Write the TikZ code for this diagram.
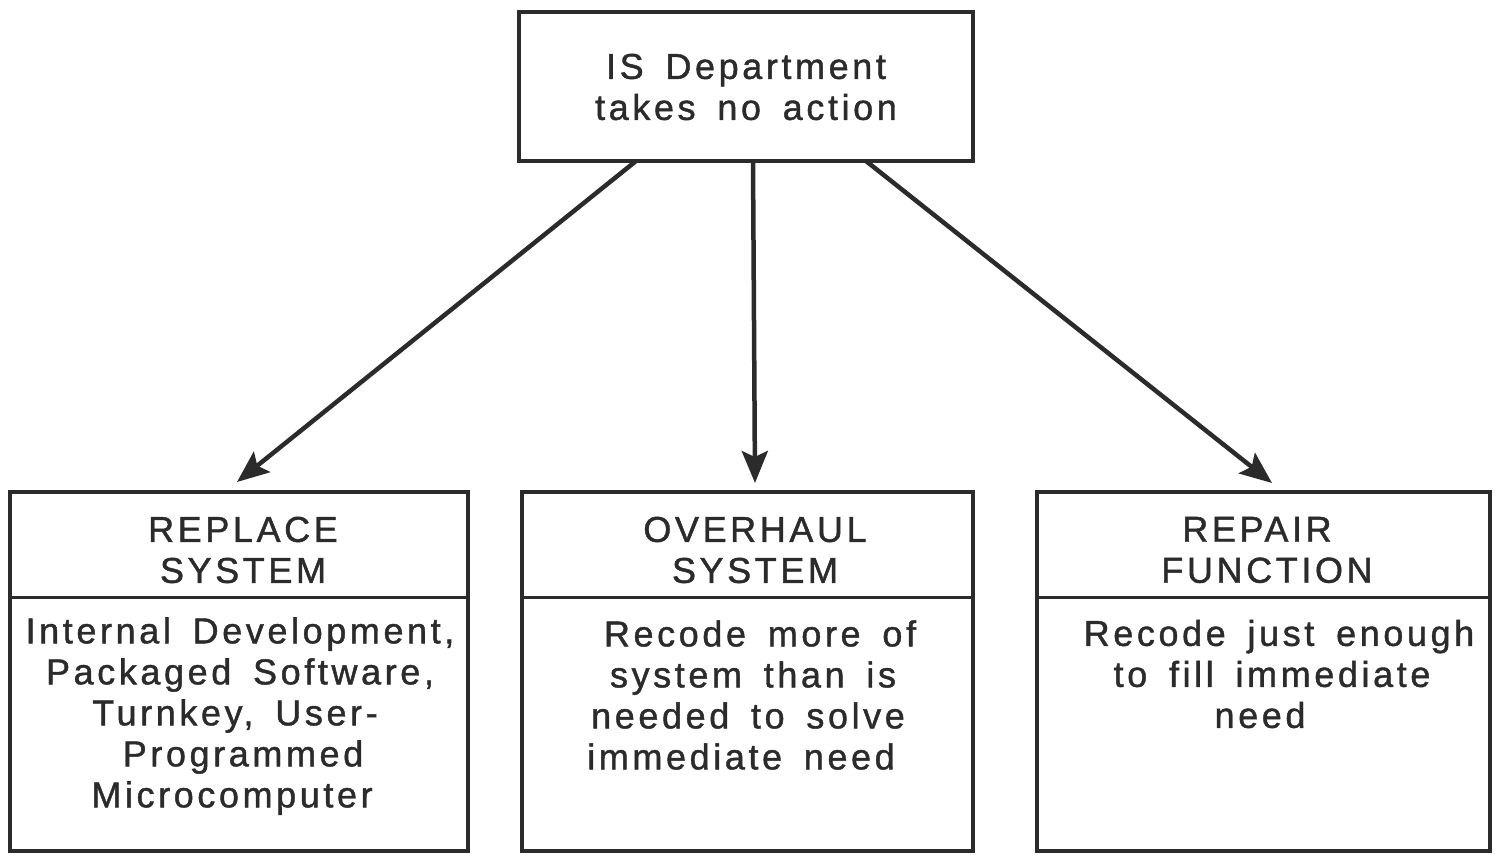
\documentclass[tikz,border=0pt]{standalone}
\usepackage{fontspec}
\setmainfont{Liberation Sans}[LetterSpace=10, WordSpace=1.6, FakeBold=1.2]
\usetikzlibrary{arrows.meta}
\definecolor{ink}{HTML}{2B2B2B}
% shift one centred line sideways by #1
\newcommand{\nudge}[1]{\hspace*{#1}}
\begin{document}
\begin{tikzpicture}[x=1pt,y=-1pt,
  box/.style={draw=ink, line width=3.5pt, rectangle, inner sep=0pt},
  divider/.style={draw=ink, line width=3pt},
  txt/.style={text=ink, align=center, inner sep=0pt,
    font=\fontsize{36}{41}\selectfont},
  arr/.style={draw=ink, line width=4.5pt,
    -{Stealth[length=32pt,width=26pt,inset=6pt]}}]
\useasboundingbox (0,0) rectangle (1496,854);

% boxes
\node[box, minimum width=454pt, minimum height=149pt] (top) at (746,86.5) {};
\node[box, minimum width=458pt, minimum height=359pt] (replace) at (239,671.5) {};
\node[box, minimum width=451pt, minimum height=359pt] (overhaul) at (747.5,671.5) {};
\node[box, minimum width=453pt, minimum height=359pt] (repair) at (1263.5,671.5) {};

% header dividers
\coordinate (dv) at (0,597);
\draw[divider] (replace.west |- dv) -- (replace.east |- dv);
\draw[divider] (overhaul.west |- dv) -- (overhaul.east |- dv);
\draw[divider] (repair.west |- dv) -- (repair.east |- dv);

% texts
\node[txt] (toptext) at (746,87) {IS Department\\takes no action};
\node[txt] (h1) at (243,550) {REPLACE\\SYSTEM};
\node[txt] (h2) at (755,550) {OVERHAUL\\SYSTEM};
\node[txt] (h3) at (1263,550) {\nudge{-12pt}REPAIR\\\nudge{8pt}FUNCTION};
\node[txt] (b1) at (240,716) {Internal Development,\\Packaged Software,\\\nudge{-10pt}Turnkey, User-\\\nudge{6pt}Programmed\\\nudge{-16pt}Microcomputer};
\node[txt] (b2) at (751,695) {\nudge{18pt}Recode more of\\\nudge{4pt}system than is\\\nudge{-6pt}needed to solve\\\nudge{-20pt}immediate need};
\node[txt] (b3) at (1272,674) {\nudge{14pt}Recode just enough\\to fill immediate\\\nudge{-24pt}need};

% connectors
\coordinate (s1) at (636,161);
\coordinate (s2) at (753,161);
\coordinate (s3) at (866,161);
\coordinate (e1) at (237,482);
\coordinate (e2) at (755,483);
\coordinate (e3) at (1272,483);
\draw[arr] (s1) -- (e1);
\draw[arr] (s2) -- (e2);
\draw[arr] (s3) -- (e3);
\end{tikzpicture}
\end{document}
